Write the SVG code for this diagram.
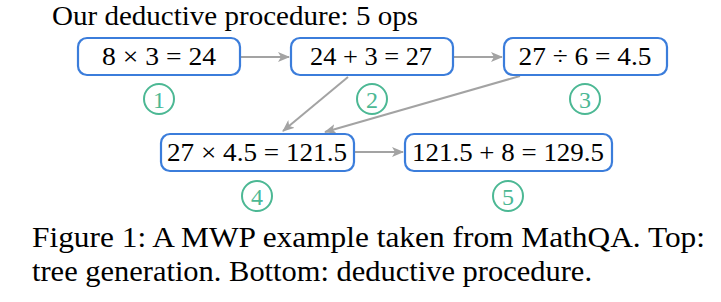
<svg xmlns="http://www.w3.org/2000/svg" width="721" height="302" viewBox="0 0 721 302">
<style>
.box{fill:#fff;stroke:#3b7ddb;stroke-width:2.2}
.t{font-family:"Liberation Serif",serif;font-size:25px;fill:#000;text-anchor:middle}
.c{fill:none;stroke:#4cb894;stroke-width:2}
.n{font-family:"Liberation Serif",serif;font-size:24px;fill:#4cb894;text-anchor:middle}
.e{stroke:#a3a3a3;stroke-width:2;fill:none;marker-end:url(#ah)}
.cap{font-family:"Liberation Serif",serif;font-size:29px;fill:#000}
</style>
<defs>
<marker id="ah" viewBox="0 0 12 10" refX="11" refY="5" markerWidth="12" markerHeight="10" markerUnits="userSpaceOnUse" orient="auto">
<path d="M0,0 L12,5 L0,10 L3,5 z" fill="#a3a3a3"/>
</marker>
</defs>
<text class="cap" x="52" y="25" textLength="366" lengthAdjust="spacingAndGlyphs" style="font-size:27px">Our deductive procedure: 5 ops</text>
<g id="connectors">
<line class="e" x1="241" y1="57" x2="289" y2="57"/>
<line class="e" x1="454" y1="57" x2="502" y2="57"/>
<line class="e" x1="348" y1="77" x2="283" y2="131"/>
<line class="e" x1="520" y1="76" x2="325" y2="132"/>
<line class="e" x1="355" y1="152" x2="403" y2="152"/>
</g>
<g id="n1">
<rect class="box" x="78" y="38" width="162" height="37" rx="9"/>
<text class="t" x="159" y="65" textLength="114" lengthAdjust="spacingAndGlyphs">8 × 3 = 24</text>
<circle class="c" cx="159" cy="99" r="15"/>
<text class="n" x="159" y="107.5">1</text>
</g>
<g id="n2">
<rect class="box" x="291" y="38" width="162" height="37" rx="9"/>
<text class="t" x="371" y="65" textLength="122" lengthAdjust="spacingAndGlyphs">24 + 3 = 27</text>
<circle class="c" cx="372" cy="99" r="15"/>
<text class="n" x="372" y="107.5">2</text>
</g>
<g id="n3">
<rect class="box" x="504" y="38" width="163" height="37" rx="9"/>
<text class="t" x="585" y="65" textLength="133" lengthAdjust="spacingAndGlyphs">27 ÷ 6 = 4.5</text>
<circle class="c" cx="585" cy="99" r="15"/>
<text class="n" x="585" y="107.5">3</text>
</g>
<g id="n4">
<rect class="box" x="161" y="134" width="193" height="37" rx="9"/>
<text class="t" x="257" y="161" textLength="180" lengthAdjust="spacingAndGlyphs">27 × 4.5 = 121.5</text>
<circle class="c" cx="257" cy="196" r="15"/>
<text class="n" x="257" y="204.5">4</text>
</g>
<g id="n5">
<rect class="box" x="405" y="134" width="207" height="37" rx="9"/>
<text class="t" x="508" y="161" textLength="192" lengthAdjust="spacingAndGlyphs">121.5 + 8 = 129.5</text>
<circle class="c" cx="508" cy="196" r="15"/>
<text class="n" x="508" y="204.5">5</text>
</g>
<text class="cap" x="32" y="247" textLength="673" lengthAdjust="spacingAndGlyphs">Figure 1: A MWP example taken from MathQA. Top:</text>
<text class="cap" x="32" y="281" textLength="560" lengthAdjust="spacingAndGlyphs">tree generation. Bottom: deductive procedure.</text>
</svg>
